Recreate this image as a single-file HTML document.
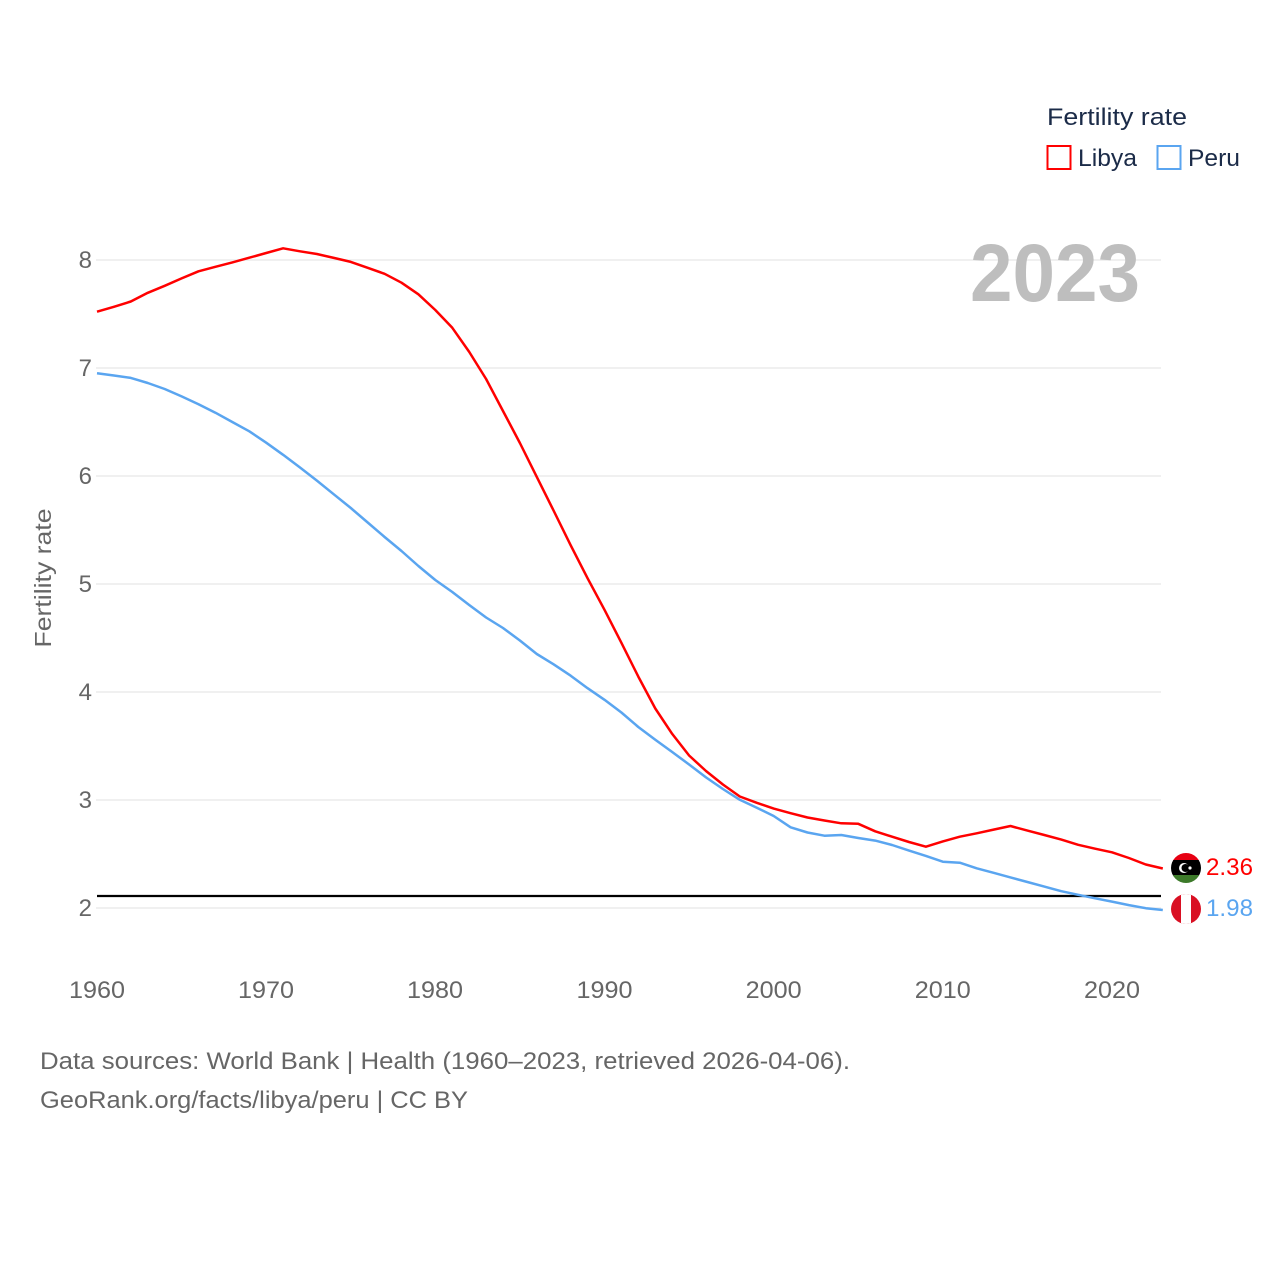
<!DOCTYPE html>
<html><head><meta charset="utf-8"><style>
html,body{margin:0;padding:0;background:#fff;}
svg{display:block;font-family:"Liberation Sans",sans-serif;}
</style></head><body>
<svg width="1280" height="1280" viewBox="0 0 1280 1280" xmlns="http://www.w3.org/2000/svg">
<rect width="1280" height="1280" fill="#fff"/>
<!-- legend -->
<text x="1047" y="125" font-size="24" fill="#1b2b48" textLength="140" lengthAdjust="spacingAndGlyphs">Fertility rate</text>
<rect x="1047.5" y="146" width="23" height="23" fill="none" stroke="#ff0000" stroke-width="2"/>
<text x="1078" y="166" font-size="24" fill="#1b2b48" textLength="59" lengthAdjust="spacingAndGlyphs">Libya</text>
<rect x="1157.5" y="146" width="23" height="23" fill="none" stroke="#5aa5f0" stroke-width="2"/>
<text x="1188" y="166" font-size="24" fill="#1b2b48" textLength="52" lengthAdjust="spacingAndGlyphs">Peru</text>
<!-- gridlines -->
<g stroke="#ebebeb" stroke-width="1.5">
<line x1="96" y1="260" x2="1161" y2="260"/>
<line x1="96" y1="368" x2="1161" y2="368"/>
<line x1="96" y1="476" x2="1161" y2="476"/>
<line x1="96" y1="584" x2="1161" y2="584"/>
<line x1="96" y1="692" x2="1161" y2="692"/>
<line x1="96" y1="800" x2="1161" y2="800"/>
<line x1="96" y1="908" x2="1161" y2="908"/>
</g>
<!-- big year -->
<text x="1140" y="301" font-size="82" font-weight="bold" fill="#bebebe" text-anchor="end" textLength="170" lengthAdjust="spacingAndGlyphs">2023</text>
<!-- y ticks -->
<g font-size="24" fill="#666" text-anchor="end">
<text x="92" y="268">8</text>
<text x="92" y="376">7</text>
<text x="92" y="484">6</text>
<text x="92" y="592">5</text>
<text x="92" y="700">4</text>
<text x="92" y="808">3</text>
<text x="92" y="916">2</text>
</g>
<text transform="translate(51,578) rotate(-90)" font-size="23" fill="#666" text-anchor="middle" textLength="139" lengthAdjust="spacingAndGlyphs">Fertility rate</text>
<!-- x ticks -->
<g font-size="24" fill="#666" text-anchor="middle">
<text x="97" y="998" textLength="56" lengthAdjust="spacingAndGlyphs">1960</text>
<text x="266" y="998" textLength="56" lengthAdjust="spacingAndGlyphs">1970</text>
<text x="435" y="998" textLength="56" lengthAdjust="spacingAndGlyphs">1980</text>
<text x="604.5" y="998" textLength="56" lengthAdjust="spacingAndGlyphs">1990</text>
<text x="773.7" y="998" textLength="56" lengthAdjust="spacingAndGlyphs">2000</text>
<text x="942.8" y="998" textLength="56" lengthAdjust="spacingAndGlyphs">2010</text>
<text x="1112" y="998" textLength="56" lengthAdjust="spacingAndGlyphs">2020</text>
</g>
<!-- replacement line -->
<line x1="97" y1="896" x2="1161" y2="896" stroke="#000" stroke-width="2.2"/>
<!-- Peru -->
<polyline fill="none" stroke="#5aa5f0" stroke-width="2.5" stroke-linejoin="round" points="
97,373.3 113.9,375.5 130.8,377.9 147.8,383 164.7,389 181.6,396.4 198.5,404.2 215.4,412.7 232.3,422 249.3,431.3
266.2,442.7 283.1,454.8 300,467.5 316.9,480.6 333.8,494.3 350.8,508 367.7,522.5 384.6,537 401.5,551 418.4,566
435.3,580 452.3,592 469.2,605 486.1,617.5 503,628 519.9,640.5 536.8,654 553.8,664.4 570.7,675.7 587.6,688.2
604.5,699.8 621.4,712.5 638.3,727 655.3,739.8 672.2,752 689.1,764.5 706,777.4 722.9,789 739.8,799.8 756.8,807.7
773.7,816 790.6,827.3 807.5,832.5 824.4,835.7 841.3,835 858.3,838 875.2,840.6 892.1,845 909,850.6 925.9,855.9
942.8,861.7 959.8,862.7 976.7,868.3 993.6,872.8 1010.5,877.4 1027.4,882 1044.3,886.6 1061.3,891.2 1078.2,894.8 1095.1,898.3
1112,901.6 1128.9,905.1 1145.8,908.2 1162.8,910"/>
<!-- Libya -->
<polyline fill="none" stroke="#ff0000" stroke-width="2.5" stroke-linejoin="round" points="
97,311.7 113.9,306.8 130.8,301.5 147.8,292.8 164.7,285.8 181.6,278.4 198.5,271.3 215.4,266.8 232.3,262.4 249.3,257.7
266.2,253 283.1,248.3 300,251.3 316.9,254 333.8,257.9 350.8,261.9 367.7,267.8 384.6,273.8 401.5,282.7 418.4,294.3
435.3,310 452.3,327.8 469.2,351.9 486.1,379 503,411 519.9,443 536.8,476.9 553.8,511 570.7,545.3 587.6,578.3
604.5,609.8 621.4,642.8 638.3,676.6 655.3,708.5 672.2,733.9 689.1,755.5 706,771 722.9,784.5 739.8,796.5 756.8,802.8
773.7,808.6 790.6,813.2 807.5,817.5 824.4,820.5 841.3,823.3 858.3,823.8 875.2,831.3 892.1,836.7 909,842 925.9,846.7
942.8,841.4 959.8,836.7 976.7,833.3 993.6,829.6 1010.5,826 1027.4,830.6 1044.3,835 1061.3,839.6 1078.2,844.8 1095.1,848.7
1112,852.3 1128.9,858 1145.8,864.5 1162.8,868.5"/>
<!-- flags -->
<defs>
<clipPath id="cl"><circle cx="1186" cy="868" r="15"/></clipPath>
<clipPath id="cp"><circle cx="1186" cy="909" r="15"/></clipPath>
</defs>
<g clip-path="url(#cl)">
<rect x="1170" y="852" width="32" height="9" fill="#e70013"/>
<rect x="1170" y="860" width="32" height="16" fill="#000"/>
<rect x="1170" y="875" width="32" height="9" fill="#3d7a2a"/>
<circle cx="1184" cy="868" r="5" fill="#fff"/>
<circle cx="1185.5" cy="868" r="4" fill="#000"/>
<circle cx="1190" cy="868" r="1.6" fill="#fff"/>
</g>
<g clip-path="url(#cp)">
<rect x="1170" y="893" width="32" height="32" fill="#d91023"/>
<rect x="1181" y="893" width="10" height="32" fill="#fff"/>
</g>
<text x="1206" y="875" font-size="24" fill="#ff0000" textLength="47" lengthAdjust="spacingAndGlyphs">2.36</text>
<text x="1206" y="916" font-size="24" fill="#5aa5f0" textLength="47" lengthAdjust="spacingAndGlyphs">1.98</text>
<!-- footer -->
<text x="40" y="1069" font-size="24" fill="#666" textLength="810" lengthAdjust="spacingAndGlyphs">Data sources: World Bank | Health (1960–2023, retrieved 2026-04-06).</text>
<text x="40" y="1108" font-size="24" fill="#666" textLength="428" lengthAdjust="spacingAndGlyphs">GeoRank.org/facts/libya/peru | CC BY</text>
</svg>
</body></html>
